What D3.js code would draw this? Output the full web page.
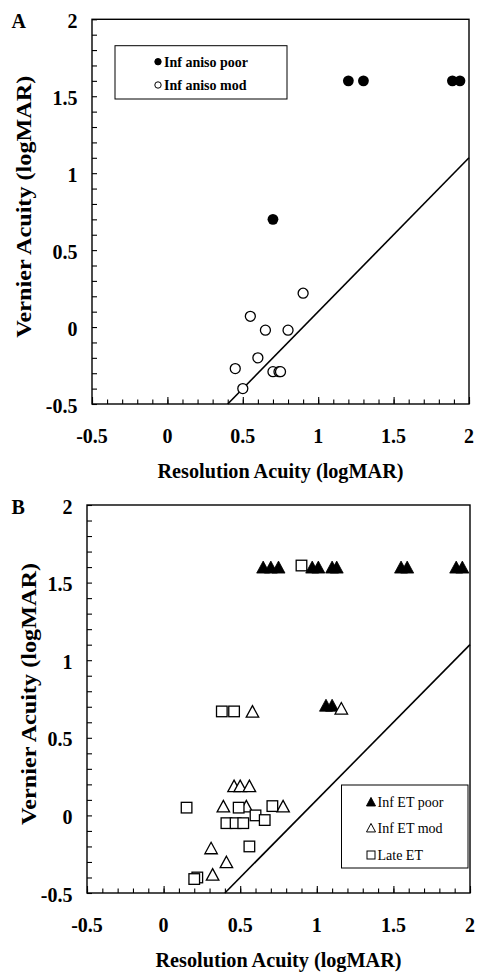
<!DOCTYPE html>
<html>
<head>
<meta charset="utf-8">
<script src="https://cdn.jsdelivr.net/npm/d3@7"></script>
<style>
  html, body { margin: 0; padding: 0; background: #fff; }
  svg { display: block; }
  text { font-family: "Liberation Serif", "Times New Roman", serif; fill: #000; }
</style>
</head>
<body>
<div id="chart"></div>
<script>
// ---------- Data ----------
const tickValues = [-0.5, 0, 0.5, 1, 1.5, 2];
const tickLabels = ["-0.5", "0", "0.5", "1", "1.5", "2"];

// Panel A
const aPoorX = [1.2, 1.3, 1.89, 1.94, 0.7];
const aPoorY = [1.6, 1.6, 1.6, 1.6, 0.7];
const aModX  = [0.9, 0.55, 0.65, 0.8, 0.6, 0.45, 0.7, 0.74, 0.75, 0.5];
const aModY  = [0.22, 0.07, -0.02, -0.02, -0.2, -0.27, -0.29, -0.29, -0.29, -0.4];
const aLegend = ["Inf aniso poor", "Inf aniso mod"];

// Panel B
const bPoorX = [0.65, 0.7, 0.75, 0.97, 1.01, 1.1, 1.13, 1.55, 1.59, 1.91, 1.95, 1.06, 1.1];
const bPoorY = [1.6, 1.6, 1.6, 1.6, 1.6, 1.6, 1.6, 1.6, 1.6, 1.6, 1.6, 0.71, 0.71];
const bModX  = [0.58, 1.16, 0.46, 0.5, 0.56, 0.39, 0.54, 0.78, 0.31, 0.41, 0.32];
const bModY  = [0.67, 0.69, 0.19, 0.19, 0.19, 0.06, 0.06, 0.06, -0.21, -0.3, -0.38];
const bLateX = [0.9, 0.38, 0.46, 0.15, 0.49, 0.71, 0.6, 0.66, 0.41, 0.47, 0.52, 0.56, 0.22, 0.2];
const bLateY = [1.61, 0.67, 0.67, 0.05, 0.05, 0.06, 0.0, -0.03, -0.05, -0.05, -0.05, -0.2, -0.4, -0.41];
const bLegend = ["Inf ET poor", "Inf ET mod", "Late ET"];

// Reference line (Vernier = Resolution - 0.9)
const lineX = [0.4, 2];
const lineY = [-0.5, 1.1];

const xTitle = "Resolution Acuity (logMAR)";
const yTitle = "Vernier Acuity (logMAR)";

// ---------- Drawing ----------
const W = 477, H = 972;
const svg = d3.select("#chart").append("svg").attr("width", W).attr("height", H);

function triPath(w, h) {
  return `M0,${-h/2}L${w/2},${h/2}L${-w/2},${h/2}Z`;
}

function drawPanel(o) {
  const x = d3.scaleLinear().domain([-0.5, 2]).range([o.l, o.r]);
  const y = d3.scaleLinear().domain([-0.5, 2]).range([o.b, o.t]);
  const g = svg.append("g");
  const minor = d3.range(-5, 21).map(i => i / 10);

  // inward ticks
  g.append("g").attr("transform", `translate(0,${o.b})`)
    .call(d3.axisBottom(x).tickValues(minor).tickSize(-4.5).tickFormat(""))
    .call(s => { s.select(".domain").remove(); s.selectAll("line").attr("stroke", "#000").attr("stroke-width", 1.1); });
  g.append("g").attr("transform", `translate(0,${o.b})`)
    .call(d3.axisBottom(x).tickValues(tickValues).tickSize(-7).tickFormat(""))
    .call(s => { s.select(".domain").remove(); s.selectAll("line").attr("stroke", "#000").attr("stroke-width", 1.1); });
  g.append("g").attr("transform", `translate(${o.l},0)`)
    .call(d3.axisLeft(y).tickValues(minor).tickSize(-5).tickFormat(""))
    .call(s => { s.select(".domain").remove(); s.selectAll("line").attr("stroke", "#000").attr("stroke-width", 1.1); });

  // frame
  g.append("rect").attr("x", o.l).attr("y", o.t).attr("width", o.r - o.l).attr("height", o.b - o.t)
    .attr("fill", "none").attr("stroke", "#000").attr("stroke-width", 1.4);

  // tick labels
  g.selectAll(".xl").data(tickValues).join("text")
    .attr("x", d => x(d)).attr("y", o.b + 39)
    .attr("text-anchor", "middle").attr("font-size", 20).attr("font-weight", "bold")
    .text((d, i) => tickLabels[i]);
  g.selectAll(".yl").data(tickValues).join("text")
    .attr("x", o.l - 14.5).attr("y", d => y(d) + 8.5)
    .attr("text-anchor", "end").attr("font-size", 20).attr("font-weight", "bold")
    .text((d, i) => tickLabels[i]);

  // titles
  g.append("text").attr("x", (o.l + o.r) / 2).attr("y", o.b + 74)
    .attr("text-anchor", "middle").attr("font-size", 21).attr("font-weight", "bold")
    .attr("textLength", 246).attr("lengthAdjust", "spacingAndGlyphs").text(xTitle);
  g.append("text").attr("transform", `translate(${o.ytx},${(o.t + o.b) / 2 - 5}) rotate(-90)`)
    .attr("text-anchor", "middle").attr("font-size", 20).attr("font-weight", "bold")
    .attr("textLength", 262).attr("lengthAdjust", "spacingAndGlyphs").text(yTitle);

  // panel letter
  g.append("text").attr("x", 11.5).attr("y", o.t + 9).attr("font-size", 20).attr("font-weight", "bold").text(o.letter);

  // reference line
  g.append("path").datum(lineX.map((v, i) => [v, lineY[i]]))
    .attr("d", d3.line().x(d => x(d[0])).y(d => y(d[1])))
    .attr("fill", "none").attr("stroke", "#000").attr("stroke-width", 1.6);

  return { g, x, y };
}

// ---------- Panel A ----------
const A = drawPanel({ l: 92, r: 469, t: 19.3, b: 404, ytx: 31, letter: "A" });
A.g.selectAll(".ap").data(aPoorX).join("circle")
  .attr("cx", d => A.x(d)).attr("cy", (d, i) => A.y(aPoorY[i])).attr("r", 5.4)
  .attr("fill", "#000");
A.g.selectAll(".am").data(aModX).join("circle")
  .attr("cx", d => A.x(d)).attr("cy", (d, i) => A.y(aModY[i])).attr("r", 5)
  .attr("fill", "#fff").attr("stroke", "#000").attr("stroke-width", 1.3);

// legend A
A.g.append("rect").attr("x", 115).attr("y", 45.7).attr("width", 172).attr("height", 53.3)
  .attr("fill", "#fff").attr("stroke", "#000").attr("stroke-width", 1);
const aLegY = [61.7, 85];
aLegend.forEach((t, i) => {
  A.g.append("circle").attr("cx", 158).attr("cy", aLegY[i]).attr("r", 3.2)
    .attr("fill", i === 0 ? "#000" : "#fff").attr("stroke", "#000").attr("stroke-width", 1);
  A.g.append("text").attr("x", 164).attr("y", aLegY[i] + 5).attr("font-size", 14)
    .attr("font-weight", "bold").text(t);
});

// ---------- Panel B ----------
const B = drawPanel({ l: 87, r: 470, t: 505, b: 893, ytx: 36, letter: "B" });
B.g.selectAll(".bp").data(bPoorX).join("path")
  .attr("transform", (d, i) => `translate(${B.x(d)},${B.y(bPoorY[i])})`)
  .attr("d", triPath(13, 12)).attr("fill", "#000").attr("stroke", "#000").attr("stroke-width", 0.8);
B.g.selectAll(".bm").data(bModX).join("path")
  .attr("transform", (d, i) => `translate(${B.x(d)},${B.y(bModY[i])})`)
  .attr("d", triPath(12.5, 11.5)).attr("fill", "#fff").attr("stroke", "#000").attr("stroke-width", 1.3);
B.g.selectAll(".bl").data(bLateX).join("rect")
  .attr("x", d => B.x(d) - 5.3).attr("y", (d, i) => B.y(bLateY[i]) - 5.3)
  .attr("width", 10.6).attr("height", 10.6)
  .attr("fill", "#fff").attr("stroke", "#000").attr("stroke-width", 1.3);

// legend B
B.g.append("rect").attr("x", 341.5).attr("y", 785).attr("width", 126.5).attr("height", 83)
  .attr("fill", "#fff").attr("stroke", "#000").attr("stroke-width", 1);
const bLegY = [801.7, 827.7, 855];
bLegend.forEach((t, i) => {
  const cy = bLegY[i];
  if (i < 2) {
    B.g.append("path").attr("transform", `translate(371,${cy})`).attr("d", triPath(9, 8.5))
      .attr("fill", i === 0 ? "#000" : "#fff").attr("stroke", "#000").attr("stroke-width", 1);
  } else {
    B.g.append("rect").attr("x", 367).attr("y", cy - 4).attr("width", 8).attr("height", 8)
      .attr("fill", "#fff").attr("stroke", "#000").attr("stroke-width", 1);
  }
  B.g.append("text").attr("x", 377.5).attr("y", cy + 5).attr("font-size", 14).text(t);
});
</script>
</body>
</html>
